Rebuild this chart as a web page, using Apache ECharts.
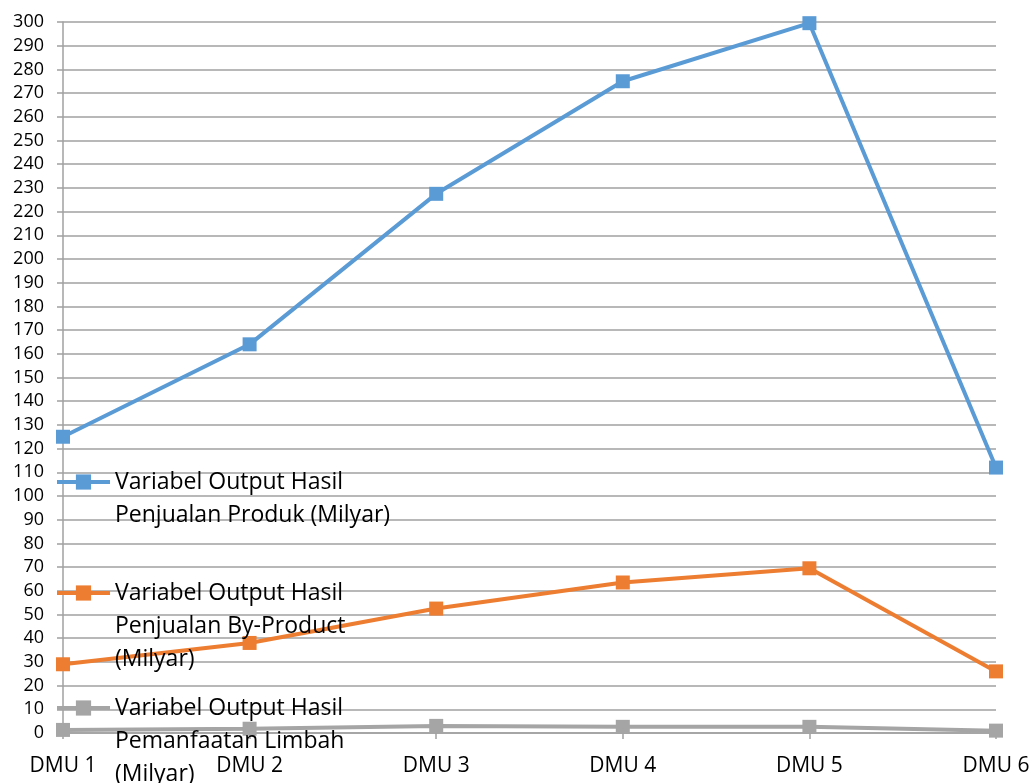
<!DOCTYPE html>
<html>
<head>
<meta charset="utf-8">
<script src="https://cdn.jsdelivr.net/npm/echarts@6/dist/echarts.min.js"></script>
<style>html,body{margin:0;padding:0;background:#fff}#c{width:1034px;height:783px}</style>
</head>
<body>
<div id="c"></div>
<script>
const categories = ['DMU 1', 'DMU 2', 'DMU 3', 'DMU 4', 'DMU 5', 'DMU 6'];
const produk = [125, 164, 227.5, 275, 299.5, 112];
const byProduct = [29, 38, 52.5, 63.5, 69.5, 26];
const limbah = [1.3, 1.8, 3, 2.6, 2.6, 1];
const seriesNames = [
  'Variabel Output Hasil\nPenjualan Produk (Milyar)',
  'Variabel Output Hasil\nPenjualan By-Product\n(Milyar)',
  'Variabel Output Hasil\nPemanfaatan Limbah\n(Milyar)'
];
const colors = ['#5B9BD5', '#ED7D31', '#A5A5A5'];
const FONT = '"Open Sans", sans-serif';
const L = 33;

const chart = echarts.init(document.getElementById('c'), null, {renderer: 'canvas'});

function mkLegend(name, n, top) {
  return {
    orient: 'vertical', left: 55, top: top, padding: 0,
    itemWidth: 53, itemHeight: 19, selectedMode: false,
    data: [name],
    lineStyle: {width: 4},
    formatter: function (nm) { return '\n'.repeat(n - 1) + nm; },
    textStyle: {fontFamily: FONT, fontSize: 23, color: '#000', lineHeight: L}
  };
}

function mkSeries(name, data, color) {
  return {
    name: name, type: 'line', data: data,
    symbol: 'rect', symbolSize: 14,
    lineStyle: {width: 4, color: color},
    itemStyle: {color: color},
    animation: false
  };
}

chart.setOption({
  animation: false,
  color: colors,
  grid: {left: 63, right: 38, top: 22, bottom: 50, containLabel: false},
  legend: [
    mkLegend(seriesNames[0], 2, 432.5),
    mkLegend(seriesNames[1], 3, 510.5),
    mkLegend(seriesNames[2], 3, 625.5)
  ],
  xAxis: {
    type: 'category', data: categories, boundaryGap: false,
    axisLine: {lineStyle: {color: '#A0A0A0', width: 1.5}},
    axisTick: {show: true, length: 6, lineStyle: {color: '#A0A0A0', width: 1.5}},
    axisLabel: {fontFamily: FONT, fontSize: 21, color: '#000', margin: 23}
  },
  yAxis: {
    type: 'value', min: 0, max: 300, interval: 10,
    axisLine: {show: true, lineStyle: {color: '#A0A0A0', width: 1.5}},
    axisTick: {show: true, length: 6, lineStyle: {color: '#A0A0A0', width: 1.5}},
    splitLine: {lineStyle: {color: '#A0A0A0', width: 1.5}},
    axisLabel: {fontFamily: FONT, fontSize: 18, color: '#000', margin: 19}
  },
  series: [
    mkSeries(seriesNames[0], produk, colors[0]),
    mkSeries(seriesNames[1], byProduct, colors[1]),
    mkSeries(seriesNames[2], limbah, colors[2])
  ]
});
</script>
</body>
</html>
